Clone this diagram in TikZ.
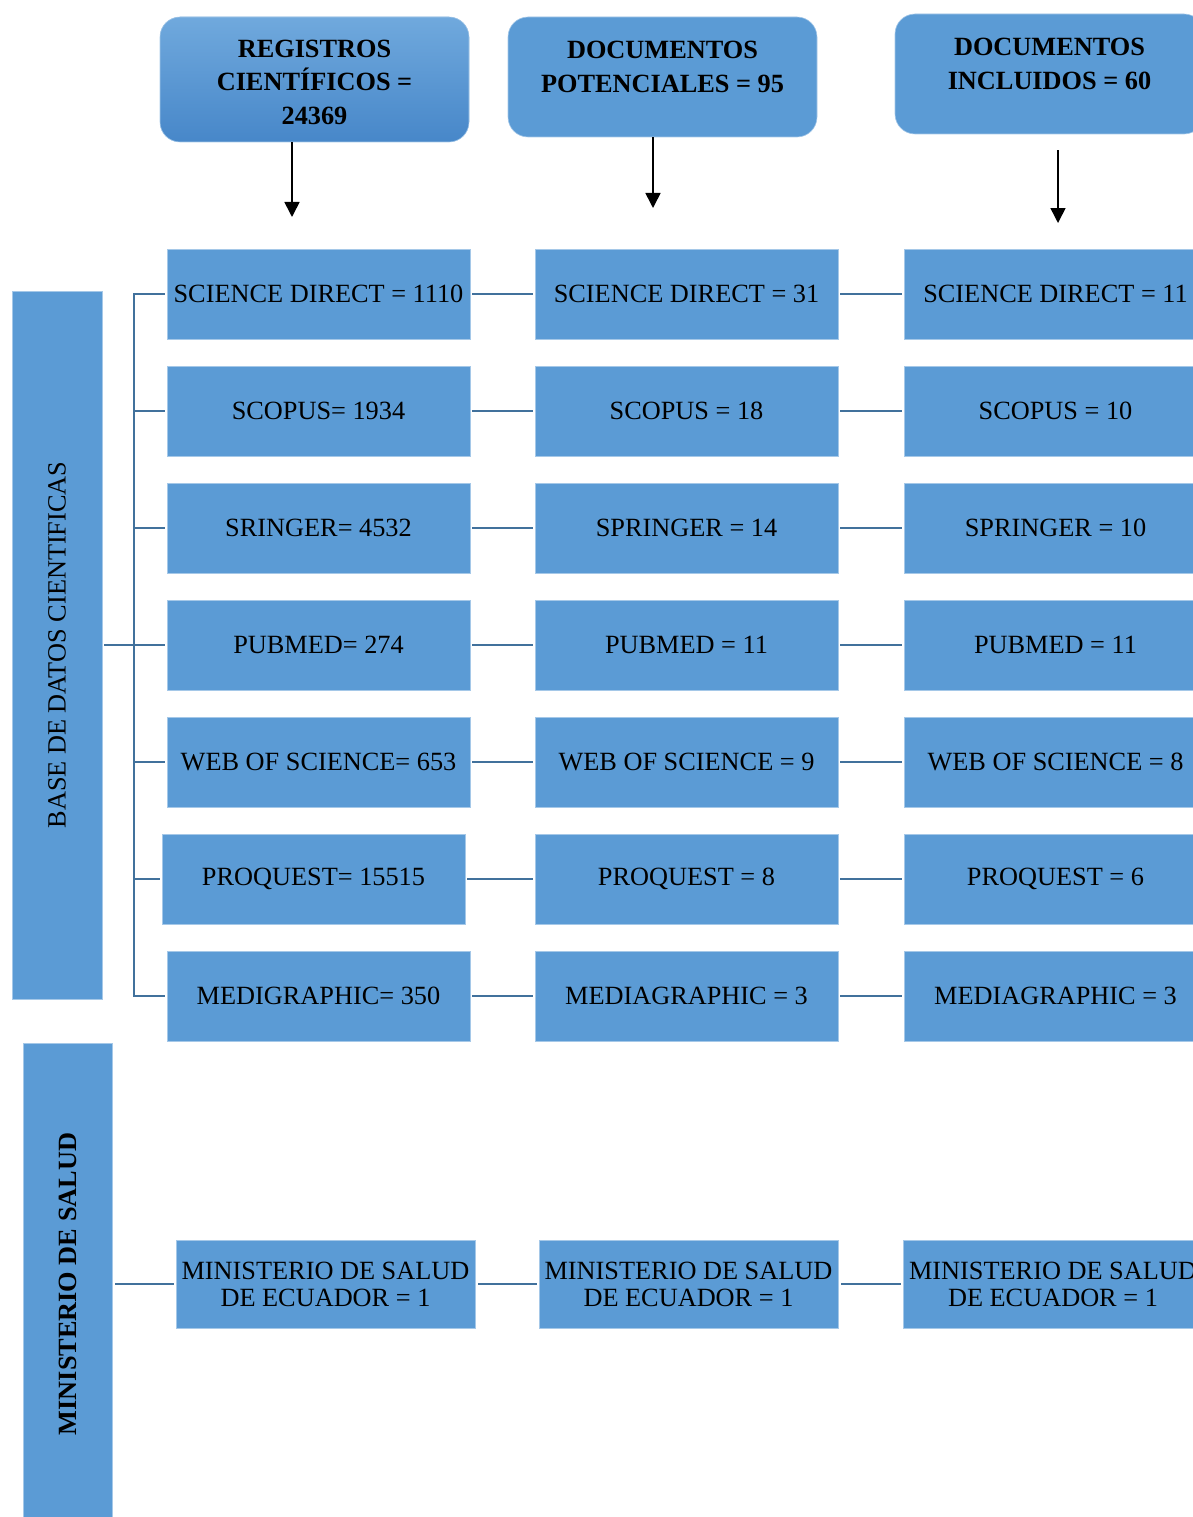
\documentclass[tikz,border=0pt]{standalone}
\usepackage{fontspec}
\setmainfont{Liberation Serif}
\usetikzlibrary{arrows.meta,positioning}
\definecolor{boxblue}{HTML}{5B9BD5}
\definecolor{linkblue}{HTML}{41719C}
\definecolor{hdrtop}{HTML}{70A9DD}
\definecolor{hdrbot}{HTML}{4787C9}
\tikzset{
  dbbox/.style={fill=boxblue,draw=boxblue!55!white,line width=.6pt,minimum width=303pt,minimum height=90pt,inner sep=0pt,align=center,font=\fontsize{26.3}{27}\selectfont},
  hdrbox/.style={fill=boxblue,draw=boxblue!55!white,line width=.6pt,rounded corners=20pt,minimum width=309pt,inner sep=0pt},
  hdrtext/.style={inner sep=0pt,align=center,font=\bfseries\fontsize{26.3}{33.5}\selectfont},
  sidebox/.style={fill=boxblue,draw=boxblue!55!white,line width=.6pt,minimum width=90pt,inner sep=0pt},
  sidetext/.style={rotate=90,inner sep=0pt,font=\fontsize{26.3}{27}\selectfont},
  link/.style={draw=linkblue,line width=2.2pt,line cap=rect},
  downarrow/.style={-{Triangle[width=15pt,length=15pt]},line width=1.6pt}
}
\begin{document}
\begin{tikzpicture}[x=1pt,y=-1pt]
\useasboundingbox (0,0) rectangle (1193,1517);
\clip (0,0) rectangle (1193,1517);
% headers
\node[hdrbox,minimum height=125pt,top color=hdrtop,bottom color=hdrbot] (hreg) at (314.5,79.5) {};
\node[hdrtext,below=23pt of hreg.north] (hregt) {REGISTROS\\CIENTÍFICOS =\\24369};
\node[hdrbox,minimum height=120pt] (hpot) at (662.5,77) {};
\node[hdrtext,below=24.5pt of hpot.north] (hpott) {DOCUMENTOS\\POTENCIALES = 95};
\node[hdrbox,minimum height=120pt] (hinc) at (1049.5,74) {};
\node[hdrtext,below=24.3pt of hinc.north] (hinct) {DOCUMENTOS\\INCLUIDOS = 60};
\coordinate (e1) at (292,217);
\coordinate (e2) at (653,208);
\coordinate (e3) at (1058,223);
\draw[downarrow] (hreg.south -| e1) -- (e1);
\draw[downarrow] (hpot.south -| e2) -- (e2);
\draw[downarrow,shorten <=16pt] (hinc.south -| e3) -- (e3);
% side boxes
\node[sidebox,minimum height=708pt,label={[sidetext]center:BASE DE DATOS CIENTIFICAS}] (base) at (57,645) {};
\node[sidebox,minimum width=89pt,minimum height=482pt,label={[sidetext,font=\bfseries\fontsize{26.3}{27}\selectfont]center:MINISTERIO DE SALUD}] (minis) at (67.5,1284) {};
% databases
\coordinate (bx) at (134,0);
\foreach \x/\a/\b/\c [count=\i] in {
  318.5/SCIENCE DIRECT = 1110/SCIENCE DIRECT = 31/SCIENCE DIRECT = 11,
  318.5/SCOPUS= 1934/SCOPUS = 18/SCOPUS = 10,
  318.5/SRINGER= 4532/SPRINGER = 14/SPRINGER = 10,
  318.5/PUBMED= 274/PUBMED = 11/PUBMED = 11,
  318.5/WEB OF SCIENCE= 653/WEB OF SCIENCE = 9/WEB OF SCIENCE = 8,
  313.5/PROQUEST= 15515/PROQUEST = 8/PROQUEST = 6,
  318.5/MEDIGRAPHIC= 350/MEDIAGRAPHIC = 3/MEDIAGRAPHIC = 3}{
  \node[dbbox] (reg\i) at (\x,177+117*\i) {\a};
  \node[dbbox] (pot\i) at (686.5,177+117*\i) {\b};
  \node[dbbox] (inc\i) at (1055.5,177+117*\i) {\c};
  \draw[link] ([xshift=3pt]reg\i.east) -- ([xshift=-3pt]pot\i.west);
  \draw[link] ([xshift=3pt]pot\i.east) -- ([xshift=-3pt]inc\i.west);
  \draw[link] ([xshift=-3pt]reg\i.west) -- (bx |- reg\i.west);
}
\draw[link] (bx |- reg1.west) -- (bx |- reg7.west);
\draw[link] ([xshift=3pt]base.east) -- (bx |- base.east);
% ministerio
\node[dbbox,minimum width=299pt,minimum height=88pt] (mreg) at (325.5,1284) {MINISTERIO DE SALUD\\DE ECUADOR = 1};
\node[dbbox,minimum width=299pt,minimum height=88pt] (mpot) at (688.5,1284) {MINISTERIO DE SALUD\\DE ECUADOR = 1};
\node[dbbox,minimum width=300pt,minimum height=88pt] (minc) at (1053,1284) {MINISTERIO DE SALUD\\DE ECUADOR = 1};
\draw[link] ([xshift=4pt]minis.east) -- ([xshift=-3pt]mreg.west);
\draw[link] ([xshift=4pt]mreg.east) -- ([xshift=-3pt]mpot.west);
\draw[link] ([xshift=4pt]mpot.east) -- ([xshift=-3pt]minc.west);
\end{tikzpicture}
\end{document}
